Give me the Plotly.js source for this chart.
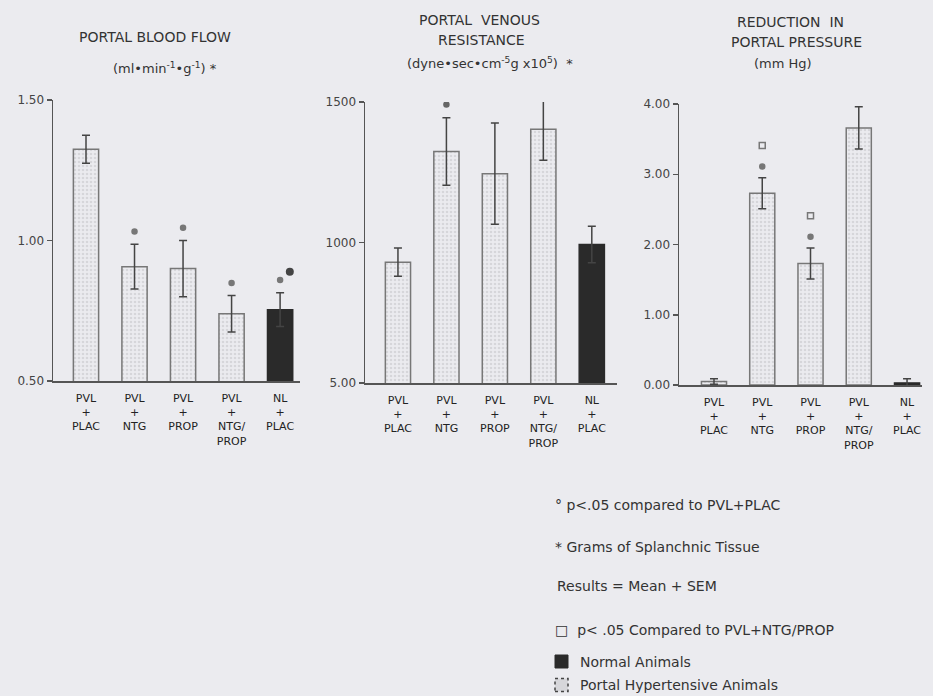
<!DOCTYPE html>
<html><head><meta charset="utf-8">
<script src="https://cdn.plot.ly/plotly-3.0.1.min.js"></script>
<style>html,body{margin:0;padding:0;background:#ebebef;}</style>
</head><body>
<div id="chart" style="width:933px;height:696px;"></div>
<script>
// ---------- data ----------
const groupIdx = [0, 1, 2, 3, 4];
const groupLabels = ['PVL<br>+<br>PLAC', 'PVL<br>+<br>NTG', 'PVL<br>+<br>PROP', 'PVL<br>+<br>NTG/<br>PROP', 'NL<br>+<br>PLAC'];
const isNormal = [false, false, false, false, true];

const flowMean = [1.325, 0.907, 0.900, 0.739, 0.754];
const flowSem  = [0.050, 0.080, 0.100, 0.065, 0.060];
const flowSigPlac = [0, 1, 1, 1, 1];

const resMean = [930, 1324, 1245, 1403, 993];
const resSem  = [50, 120, 180, 110, 65];
const resSigPlac = [0, 1, 0, 1, 0];

const redMean = [0.05, 2.73, 1.73, 3.66, 0.03];
const redSem  = [0.04, 0.22, 0.22, 0.30, 0.06];
const redSigPlac  = [0, 1, 1, 1, 0];
const redSigCombo = [0, 1, 1, 0, 0];

const flowTicks = [0.5, 1.0, 1.5], flowTickText = ['0.50', '1.00', '1.50'];
const resTicks  = [500, 1000, 1500], resTickText = ['5.00', '1000', '1500'];
const redTicks  = [0, 1, 2, 3, 4], redTickText = ['0.00', '1.00', '2.00', '3.00', '4.00'];

// ---------- helpers ----------
const W = 933, H = 696;
const px = x => x / W;
const py = y => 1 - y / H;
const FONT = 'DejaVu Sans';
const INK = '#333';

function barTrace(mean, sem, xa, ya) {
  return {
    type: 'bar', x: groupIdx, y: mean, xaxis: xa, yaxis: ya, width: 0.52,
    marker: {
      color: isNormal.map(n => n ? '#2a2a2a' : '#d6d6da'),
      line: {color: isNormal.map(n => n ? '#2a2a2a' : '#777'), width: 1.5},
      pattern: {shape: isNormal.map(n => n ? '' : '.'), fgcolor: '#8a8a8e', size: 4, solidity: 0.35}
    },
    error_y: {type: 'data', array: sem, visible: true, color: '#444', thickness: 1.5, width: 4},
    hoverinfo: 'skip', showlegend: false
  };
}
function sigTrace(flags, mean, sem, offset, xa, ya, symbol, size, color) {
  const xs = [], ys = [];
  flags.forEach((f, i) => { if (f) { xs.push(groupIdx[i]); ys.push(mean[i] + sem[i] + offset); } });
  return {type: 'scatter', mode: 'markers', x: xs, y: ys, xaxis: xa, yaxis: ya,
    marker: {symbol: symbol, size: size, color: color, line: {color: color, width: 1.5}},
    hoverinfo: 'skip', showlegend: false};
}

const traces = [
  barTrace(flowMean, flowSem, 'x', 'y'),
  sigTrace(flowSigPlac, flowMean, flowSem, 0.045, 'x', 'y', 'circle', 5, '#777'),
  {type: 'scatter', mode: 'markers', x: [groupIdx[4] + 0.2], y: [flowMean[4] + flowSem[4] + 0.075],
   xaxis: 'x', yaxis: 'y', marker: {symbol: 'circle', size: 8, color: '#444'}, hoverinfo: 'skip', showlegend: false},
  barTrace(resMean, resSem, 'x2', 'y2'),
  sigTrace(resSigPlac, resMean, resSem, 47, 'x2', 'y2', 'circle', 5, '#666'),
  barTrace(redMean, redSem, 'x3', 'y3'),
  sigTrace(redSigPlac, redMean, redSem, 0.16, 'x3', 'y3', 'circle', 5, '#777'),
  sigTrace(redSigCombo, redMean, redSem, 0.46, 'x3', 'y3', 'square-open', 6, '#777')
];

function xAxis(d0, d1, r0, r1, anchor) {
  return {domain: [px(d0), px(d1)], range: [r0, r1], anchor: anchor, type: 'linear',
    tickvals: groupIdx, ticktext: groupLabels, ticks: '', showgrid: false, zeroline: false,
    showline: true, linecolor: '#555', linewidth: 1.5, ticklabelstandoff: 6,
    tickfont: {family: FONT, size: 11, color: '#222'}, fixedrange: true};
}
function yAxis(d0, d1, r0, r1, anchor, tv, tt) {
  return {domain: [py(d0), py(d1)], range: [r0, r1], anchor: anchor, tickvals: tv, ticktext: tt,
    ticks: 'outside', ticklen: 5, tickcolor: '#555', tickwidth: 1.5, showgrid: false, zeroline: false,
    showline: true, linecolor: '#555', linewidth: 1.5,
    tickfont: {family: FONT, size: 12, color: '#444'}, fixedrange: true};
}

function txt(x, y, text, size, anchor) {
  return {xref: 'paper', yref: 'paper', x: px(x), y: py(y), text: text, showarrow: false,
    xanchor: anchor || 'center', yanchor: 'middle', font: {family: FONT, size: size, color: INK}};
}

const annotations = [
  txt(155, 37, 'PORTAL BLOOD FLOW', 14),
  txt(165, 68, '(ml•min<sup>-1</sup>•g<sup>-1</sup>) *', 13),
  txt(480, 20, 'PORTAL  VENOUS', 14),
  txt(481, 40, 'RESISTANCE', 14),
  txt(490, 63, '(dyne•sec•cm<sup>-5</sup>g x10<sup>5</sup>)  *', 13),
  txt(790, 22, 'REDUCTION  IN', 14),
  txt(796, 42, 'PORTAL PRESSURE', 14),
  txt(783, 63, '(mm Hg)', 13),
  txt(553, 505, '° p<.05 compared to PVL+PLAC', 14, 'left'),
  txt(553, 547, '* Grams of Splanchnic Tissue', 14, 'left'),
  txt(555, 586, 'Results = Mean + SEM', 14, 'left'),
  txt(553, 630, '□  p< .05 Compared to PVL+NTG/PROP', 14, 'left'),
  txt(578, 662, 'Normal Animals', 14, 'left'),
  txt(578, 685, 'Portal Hypertensive Animals', 14, 'left')
];

const shapes = [
  {type: 'rect', xref: 'paper', yref: 'paper', x0: px(555), x1: px(568), y0: py(668), y1: py(655),
   fillcolor: '#2a2a2a', line: {color: '#2a2a2a', width: 1}},
  {type: 'rect', xref: 'paper', yref: 'paper', x0: px(555), x1: px(568), y0: py(691.5), y1: py(678.5),
   fillcolor: '#d6d6da', line: {color: '#444', width: 1.5, dash: 'dot'}}
];

const layout = {
  width: W, height: H, margin: {l: 0, r: 0, t: 0, b: 0}, autosize: false,
  paper_bgcolor: '#ebebef', plot_bgcolor: 'rgba(0,0,0,0)', showlegend: false,
  bargap: 0.4,
  xaxis: xAxis(53, 300, -0.68, 4.41, 'y'),
  yaxis: yAxis(381, 100, 0.5, 1.5, 'x', flowTicks, flowTickText),
  xaxis2: xAxis(365, 617, -0.68, 4.52, 'y2'),
  yaxis2: yAxis(383, 102, 500, 1500, 'x2', resTicks, resTickText),
  xaxis3: xAxis(679, 922, -0.725, 4.31, 'y3'),
  yaxis3: yAxis(385, 104, 0, 4, 'x3', redTicks, redTickText),
  annotations: annotations, shapes: shapes
};

Plotly.newPlot('chart', traces, layout, {staticPlot: true, displayModeBar: false});
</script>
</body></html>
